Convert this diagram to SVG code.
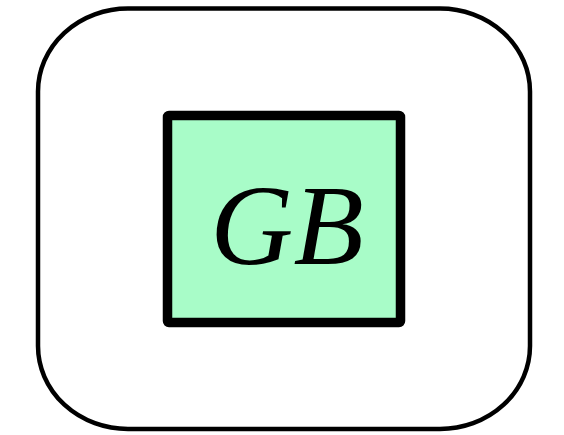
<svg xmlns="http://www.w3.org/2000/svg" width="564" height="435" viewBox="0 0 564 435">
<style>
.outer{fill:#ffffff;stroke:#000000;stroke-width:4.5}
.box{fill:#a8fcc8;stroke:#000000;stroke-width:9.5;stroke-linejoin:round}
.lbl{font-family:"Liberation Serif","Times New Roman",serif;font-style:italic;font-size:115px;fill:#000000}
</style>
<rect width="564" height="435" fill="#ffffff"/>
<g id="container">
<rect class="outer" x="38" y="8.5" width="492" height="420.5" rx="90" ry="83"/>
</g>
<g id="GB">
<rect class="box" x="167.5" y="115.5" width="233" height="207" rx="1.5"/>
<text class="lbl" x="287" y="264" text-anchor="middle">GB</text>
</g>
<g id="connectors"></g>
</svg>
